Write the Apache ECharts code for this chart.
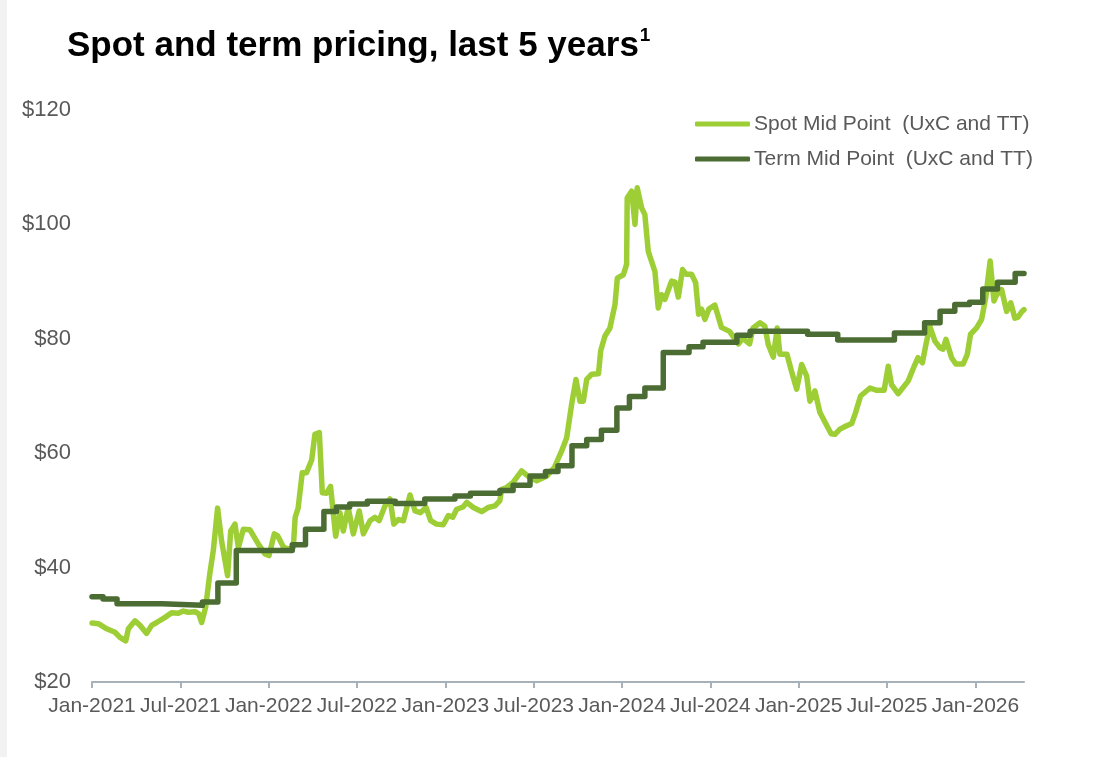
<!DOCTYPE html>
<html>
<head>
<meta charset="utf-8">
<title>Spot and term pricing</title>
<script src="https://cdn.jsdelivr.net/npm/echarts@6.0.0/dist/echarts.min.js"></script>
<style>
  html, body { margin: 0; padding: 0; background: #fff; }
  #chart { width: 1102px; height: 757px; }
</style>
</head>
<body>
<div id="chart"></div>
<script>
// x values are months since Jan-2021
const tickMonths = [0, 6, 12, 18, 24, 30, 36, 42, 48, 54, 60]
const tickLabels = ['Jan-2021', 'Jul-2021', 'Jan-2022', 'Jul-2022', 'Jan-2023', 'Jul-2023',
  'Jan-2024', 'Jul-2024', 'Jan-2025', 'Jul-2025', 'Jan-2026']

const spotMonths = [
  0, 0.43, 1.0, 1.56, 1.9, 2.29, 2.47, 2.92, 3.26, 3.71, 4.05, 4.39, 4.96, 5.41, 5.86, 6.2, 6.54, 7.0, 7.25, 7.45,
  7.72, 8.0, 8.24, 8.53, 8.8, 9.21, 9.42, 9.71, 9.94, 10.28, 10.73, 11.3, 11.75, 12.02, 12.38, 12.6, 13.0, 13.33, 13.67, 13.8,
  14.0, 14.28, 14.57, 14.92, 15.14, 15.44, 15.64, 15.93, 16.2, 16.55, 16.84, 17.07, 17.4, 17.75, 18.15, 18.43, 18.88, 19.22, 19.5, 19.9,
  20.24, 20.5, 20.8, 21.15, 21.6, 21.94, 22.3, 22.7, 23.0, 23.4, 23.86, 24.2, 24.5, 24.77, 25.2, 25.45, 25.9, 26.46, 26.9, 27.37,
  27.7, 27.82, 28.16, 28.6, 29.18, 29.75, 30.2, 30.9, 31.4, 31.9, 32.24, 32.58, 32.87, 33.14, 33.37, 33.6, 33.94, 34.4, 34.55, 34.84,
  35.18, 35.52, 35.68, 36.09, 36.31, 36.35, 36.65, 36.88, 37.03, 37.33, 37.55, 37.78, 38.23, 38.46, 38.69, 38.91, 39.37, 39.6, 39.82, 40.11,
  40.34, 40.72, 41.0, 41.2, 41.4, 41.63, 41.9, 42.3, 42.75, 43.3, 43.9, 44.2, 44.66, 44.9, 45.37, 45.7, 45.93, 46.27, 46.54, 46.72,
  47.2, 47.5, 47.86, 48.2, 48.54, 48.76, 49.1, 49.44, 49.85, 50.2, 50.46, 50.8, 51.25, 51.6, 51.85, 52.2, 52.84, 53.3, 53.8, 54.08,
  54.3, 54.75, 55.43, 55.89, 56.1, 56.4, 56.64, 56.9, 57.25, 57.6, 57.8, 58.0, 58.38, 58.67, 59.17, 59.45, 59.67, 60.08, 60.42, 60.7,
  61.0, 61.26, 61.44, 61.78, 62.12, 62.4, 62.68, 62.9, 63.13, 63.3
]
const spotPrices = [
  30.3, 30.2, 29.3, 28.7, 27.8, 27.2, 29.3, 30.7, 29.9, 28.5, 29.9, 30.4, 31.3, 32.1, 32.0, 32.4, 32.2, 32.3, 31.9, 30.4,
  33.1, 38.9, 43.0, 50.4, 44.7, 38.6, 46.4, 47.6, 43.5, 46.7, 46.6, 44.1, 42.4, 42.1, 45.9, 45.6, 43.6, 43.2, 43.5, 48.8,
  50.4, 56.6, 56.6, 58.8, 63.3, 63.6, 53.1, 53.0, 54.2, 45.5, 49.6, 46.4, 50.5, 45.9, 49.9, 45.9, 48.2, 48.8, 48.2, 50.8,
  52.0, 47.6, 48.4, 48.2, 52.7, 49.9, 49.6, 50.5, 48.2, 47.6, 47.5, 49.1, 48.8, 50.2, 50.6, 51.4, 50.5, 49.8, 50.5, 50.8,
  51.7, 53.7, 54.0, 54.9, 56.9, 55.7, 55.2, 56.0, 57.5, 60.4, 62.7, 68.6, 72.9, 69.1, 69.1, 72.9, 73.8, 73.9, 77.9, 80.5,
  81.9, 86.0, 90.6, 91.2, 93.0, 104.6, 105.8, 100.0, 106.4, 102.9, 101.7, 95.3, 91.8, 85.4, 87.7, 86.9, 90.1, 89.9, 87.3, 92.1,
  91.3, 91.3, 89.8, 84.3, 85.2, 83.4, 85.2, 85.9, 82.0, 81.3, 79.1, 80.1, 79.1, 81.9, 82.8, 82.2, 79.0, 76.8, 81.9, 77.3,
  77.3, 74.4, 71.2, 75.5, 73.5, 69.1, 70.9, 67.1, 65.1, 63.4, 63.3, 64.2, 64.8, 65.2, 67.0, 70.0, 71.4, 71.0, 71.0, 75.2,
  72.0, 70.4, 72.6, 75.5, 76.7, 75.8, 79.0, 82.2, 79.6, 78.4, 78.2, 79.9, 76.7, 75.6, 75.6, 77.3, 80.8, 81.9, 83.4, 87.2,
  93.6, 86.6, 87.7, 88.6, 84.8, 86.3, 83.6, 83.8, 84.7, 85.1
]

// term price holds each level until the next change
const termMonths = [
  0, 0.75, 1.7, 4.75, 7.5, 8.55, 9.8, 13.6, 14.5, 15.75, 16.6, 17.5, 18.7, 20.6, 22.6, 24.65, 25.7, 27.7, 28.6, 29.75,
  30.8, 31.65, 32.6, 33.6, 34.6, 35.65, 36.5, 37.55, 38.8, 40.55, 41.5, 43.8, 44.7, 48.6, 50.65, 54.5, 56.55, 57.6, 58.6, 59.6,
  60.5, 61.5, 62.7, 63.3
]
const termPrices = [
  34.9, 34.5, 33.7, 33.4, 34.0, 37.3, 43.0, 44.0, 46.7, 49.8, 50.6, 51.1, 51.6, 51.2, 52.0, 52.5, 53.0, 53.5, 54.4, 56.0,
  56.8, 57.8, 61.3, 62.4, 64.0, 67.9, 69.9, 71.4, 77.6, 78.6, 79.4, 80.6, 81.3, 80.8, 79.8, 81.0, 82.8, 84.8, 86.0, 86.4,
  88.7, 89.9, 91.4, 91.4
]

const spotColor = '#9ECE36'
const termColor = '#4B6C32'
const fontFamily = "'Liberation Sans', Arial, sans-serif"
const axisGray = '#A9B1B8'
const labelGray = '#595959'

const chart = echarts.init(document.getElementById('chart'), null, { renderer: 'canvas' })

const option = {
  animation: false,
  backgroundColor: '#ffffff',
  textStyle: { fontFamily: fontFamily },
  graphic: [
    {
      type: 'rect',
      left: 0,
      top: 0,
      shape: { width: 7, height: 757 },
      style: { fill: '#F2F2F2' },
      silent: true
    }
  ],
  title: {
    text: '{t|Spot and term pricing, last 5 years}{s|1}',
    left: 62,
    top: 19,
    textStyle: {
      rich: {
        t: { fontSize: 35, fontWeight: 'bold', color: '#000000', fontFamily: fontFamily, lineHeight: 40, verticalAlign: 'bottom' },
        s: { fontSize: 19, fontWeight: 'bold', color: '#000000', fontFamily: fontFamily, lineHeight: 40, verticalAlign: 'top', padding: [2, 0, 0, 1] }
      }
    }
  },
  legend: {
    orient: 'vertical',
    left: 695,
    top: 112,
    padding: 0,
    itemGap: 11,
    itemWidth: 55,
    itemHeight: 5,
    icon: 'roundRect',
    selectedMode: false,
    textStyle: { fontSize: 21, color: labelGray, fontFamily: fontFamily, lineHeight: 24, padding: [0, 0, 0, -1] },
    data: ['Spot Mid Point  (UxC and TT)', 'Term Mid Point  (UxC and TT)']
  },
  grid: {
    left: 92,
    right: 78,
    top: 110,
    bottom: 75
  },
  xAxis: {
    type: 'value',
    min: 0,
    max: 63.3,
    axisLine: { show: true, lineStyle: { color: axisGray, width: 2 } },
    axisTick: { show: true, length: 6, lineStyle: { color: axisGray, width: 2 }, customValues: tickMonths },
    axisLabel: {
      customValues: tickMonths,
      formatter: (v) => tickLabels[tickMonths.indexOf(v)] || '',
      fontSize: 21,
      color: labelGray,
      margin: 14,
      fontFamily: fontFamily
    },
    splitLine: { show: false }
  },
  yAxis: {
    type: 'value',
    min: 20,
    max: 120,
    interval: 20,
    axisLine: { show: false },
    axisTick: { show: false },
    splitLine: { show: false },
    axisLabel: {
      formatter: (v) => '$' + v,
      fontSize: 22,
      color: labelGray,
      margin: 21,
      fontFamily: fontFamily
    }
  },
  series: [
    {
      name: 'Spot Mid Point  (UxC and TT)',
      type: 'line',
      showSymbol: false,
      itemStyle: { color: spotColor },
      lineStyle: { color: spotColor, width: 5.5, cap: 'round', join: 'round' },
      data: spotMonths.map((m, i) => [m, spotPrices[i]])
    },
    {
      name: 'Term Mid Point  (UxC and TT)',
      type: 'line',
      step: 'end',
      showSymbol: false,
      itemStyle: { color: termColor },
      lineStyle: { color: termColor, width: 5.5, cap: 'round', join: 'round' },
      data: termMonths.map((m, i) => [m, termPrices[i]])
    }
  ]
}

chart.setOption(option)
</script>
</body>
</html>
